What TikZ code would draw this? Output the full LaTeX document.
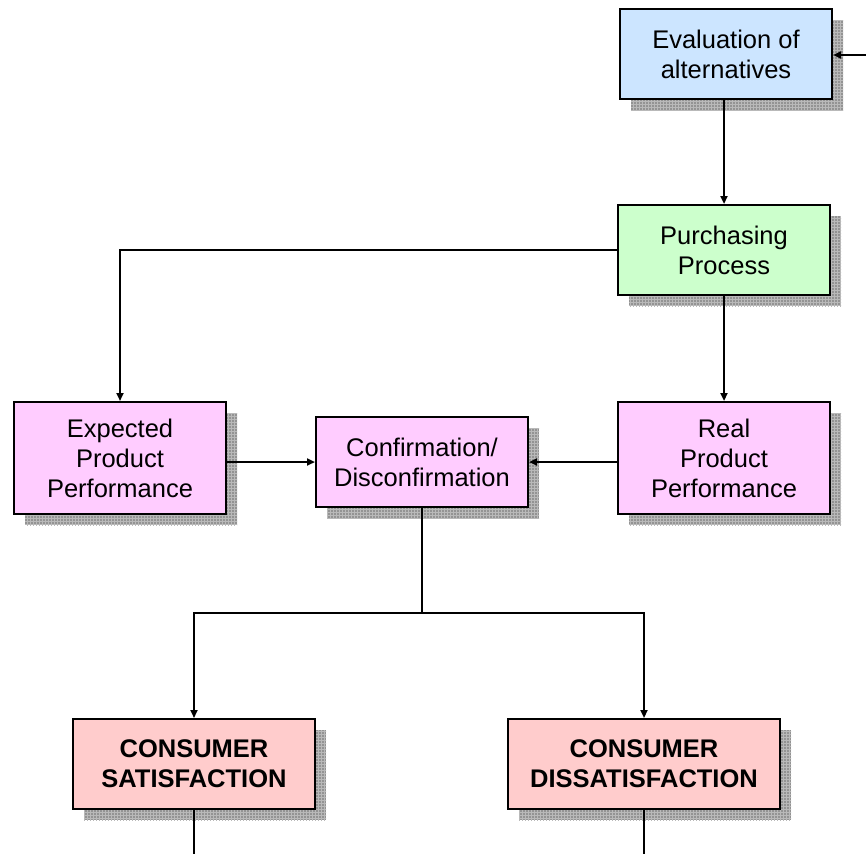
\documentclass[tikz,border=0pt]{standalone}
\usepackage{fontspec}
\setmainfont{Liberation Sans}
\usetikzlibrary{shadows,patterns,arrows.meta}
\definecolor{evalblue}{HTML}{CCE5FF}
\definecolor{purchgreen}{HTML}{CCFFCC}
\definecolor{perfpink}{HTML}{FFCCFF}
\definecolor{consred}{HTML}{FFCCCC}
\tikzset{
  box/.style={draw=black, line width=2pt, minimum height=90pt, align=center,
    font=\fontsize{25.5}{30}\selectfont, inner sep=0pt,
    general shadow={shadow xshift=11pt, shadow yshift=-11pt, fill=gray!85},
    general shadow={shadow xshift=11pt, shadow yshift=-11pt, pattern=grid, pattern color=gray!55}},
  conn/.style={line width=2pt},
  arr/.style={conn, -{Triangle[length=8pt,width=7pt]}},
}
\begin{document}
\begin{tikzpicture}[x=1pt,y=-1pt]
\useasboundingbox (0,0) rectangle (866,854);
\node[box, fill=evalblue, minimum width=212pt] (eval) at (726,54) {Evaluation of\\alternatives};
\node[box, fill=purchgreen, minimum width=212pt] (purch) at (724,250) {Purchasing\\Process};
\node[box, fill=perfpink, minimum width=212pt, minimum height=112pt] (exp) at (120,458) {Expected\\Product\\Performance};
\node[box, fill=perfpink, minimum width=212pt] (conf) at (422,462) {Confirmation/\\Disconfirmation};
\node[box, fill=perfpink, minimum width=212pt, minimum height=112pt] (real) at (724,458) {Real\\Product\\Performance};
\node[box, fill=consred, minimum width=242pt, font=\fontsize{25.5}{30}\selectfont\bfseries] (sat) at (194,764) {CONSUMER\\SATISFACTION};
\node[box, fill=consred, minimum width=272pt, font=\fontsize{25.5}{30}\selectfont\bfseries] (dis) at (644,764) {CONSUMER\\DISSATISFACTION};
\coordinate (inR) at (866,55);
\coordinate (j) at (422,613);
\coordinate (satout) at (194,854);
\coordinate (disout) at (644,854);
\draw[arr] (inR) -- (eval.east |- inR);
\draw[arr] (eval.south -| purch.north) -- (purch.north);
\draw[arr] (purch.west) -| (exp.north);
\draw[arr] (purch.south -| real.north) -- (real.north);
\draw[arr] (exp.east |- conf.west) -- (conf.west);
\draw[arr] (real.west |- conf.east) -- (conf.east);
\draw[conn] (conf.south) -- (j);
\draw[arr] (j) -| (sat.north);
\draw[arr] (j) -| (dis.north);
\draw[conn] (sat.south) -- (satout);
\draw[conn] (dis.south) -- (disout);
\end{tikzpicture}
\end{document}
